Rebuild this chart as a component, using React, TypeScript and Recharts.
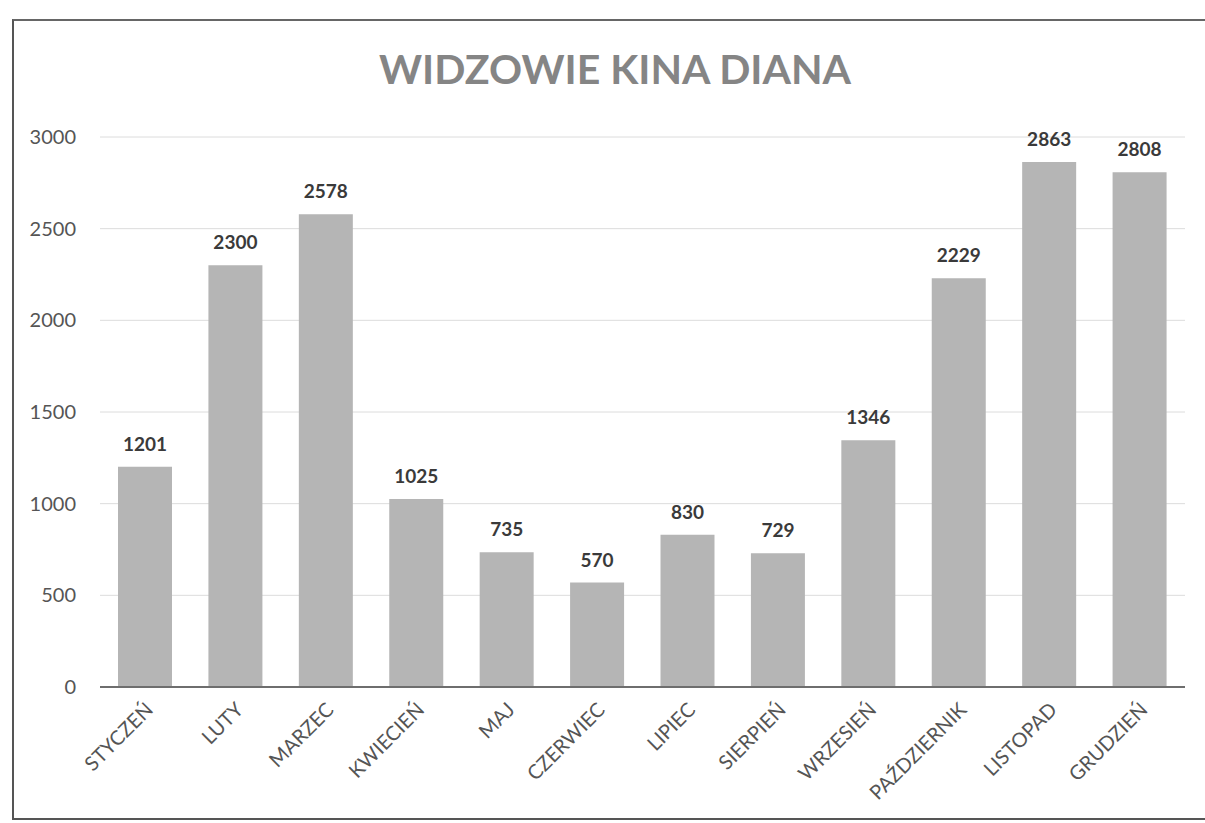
import React from 'react';
import { BarChart, Bar, XAxis, YAxis, CartesianGrid, LabelList } from 'recharts';

const months = ['STYCZEŃ', 'LUTY', 'MARZEC', 'KWIECIEŃ', 'MAJ', 'CZERWIEC', 'LIPIEC', 'SIERPIEŃ', 'WRZESIEŃ', 'PAŹDZIERNIK', 'LISTOPAD', 'GRUDZIEŃ'];
const viewers = [1201, 2300, 2578, 1025, 735, 570, 830, 729, 1346, 2229, 2863, 2808];
const yTicks = [0, 500, 1000, 1500, 2000, 2500, 3000];

const data = months.map((m, i) => ({ month: m, viewers: viewers[i] }));

const FONT = 'Lato, "Open Sans", sans-serif';

const MonthTick = (props: any) => {
  const { x, y, payload } = props;
  return (
    <g transform={`translate(${x + 9},${y + 16})`}>
      <text
        x={0}
        y={0}
        transform="rotate(-45)"
        textAnchor="end"
        fill="#555"
        fontSize={20}
        fontFamily={FONT}
      >
        {payload.value}
      </text>
    </g>
  );
};

export default function App() {
  return (
    <div style={{ position: 'absolute', left: 0, top: 0, width: 1205, height: 823, background: '#fff' }}>
      {/* scanned frame */}
      <div
        style={{
          position: 'absolute',
          left: 12,
          top: 19,
          width: 1205,
          height: 797,
          borderLeft: '2px solid #555',
          borderTop: '2px solid #666',
          borderBottom: '2px solid #555',
        }}
      />
      <div
        style={{
          position: 'absolute',
          left: 0,
          top: 44,
          width: 1230,
          textAlign: 'center',
          fontFamily: FONT,
          fontWeight: 700,
          fontSize: 41,
          color: '#858585',
        }}
      >
        WIDZOWIE KINA DIANA
      </div>
      <BarChart
        width={1205}
        height={823}
        data={data}
        margin={{ top: 137, right: 20, left: 40, bottom: 106 }}
        style={{ position: 'absolute', left: 0, top: 0 }}
      >
        <CartesianGrid vertical={false} stroke="#dcdcdc" />
        <XAxis
          dataKey="month"
          height={30}
          tick={<MonthTick />}
          tickLine={false}
          axisLine={{ stroke: '#6e6e6e', strokeWidth: 2 }}
          interval={0}
        />
        <YAxis
          width={60}
          domain={[0, 3000]}
          ticks={yTicks}
          tickLine={false}
          axisLine={false}
          tickMargin={18}
          tick={{ fill: '#555', fontSize: 20, fontFamily: FONT }}
        />
        <Bar dataKey="viewers" fill="#b5b5b5" barSize={54} isAnimationActive={false}>
          <LabelList
            dataKey="viewers"
            position="top"
            offset={16}
            fill="#3a3a3a"
            fontSize={19}
            fontWeight={700}
            fontFamily={FONT}
          />
        </Bar>
      </BarChart>
    </div>
  );
}
